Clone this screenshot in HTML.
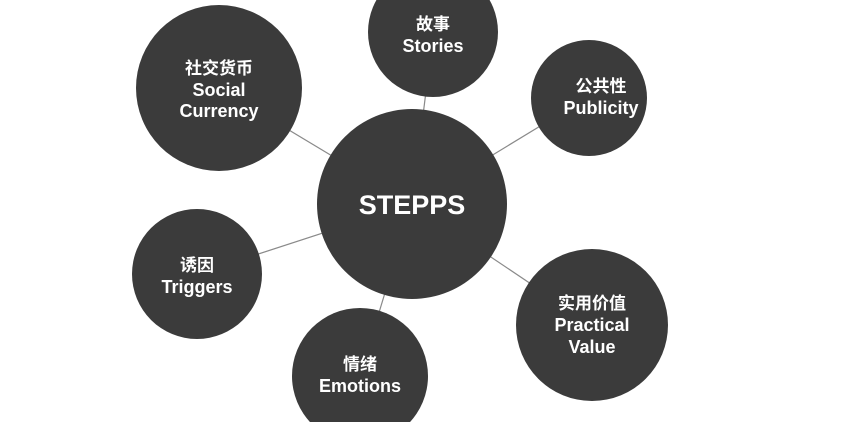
<!DOCTYPE html>
<html><head><meta charset="utf-8"><style>
html,body{margin:0;padding:0;background:#fff;width:857px;height:422px;overflow:hidden;}
body{position:relative;}
svg{position:absolute;left:0;top:0;display:block;}
text{font-family:"Liberation Sans","Noto Sans CJK SC",sans-serif;font-weight:bold;fill:#fff;text-anchor:middle;}
</style></head><body>
<svg width="857" height="422" viewBox="0 0 857 422">
<g stroke="#8a8a8a" stroke-width="1.2">
<line x1="219" y1="88" x2="412" y2="204"/>
<line x1="433" y1="35" x2="412" y2="204"/>
<line x1="588" y1="97" x2="412" y2="204"/>
<line x1="197" y1="274" x2="412" y2="204"/>
<line x1="360" y1="375" x2="412" y2="204"/>
<line x1="592" y1="325" x2="412" y2="204"/>
</g>
<g fill="#3b3b3b">
<circle cx="412" cy="204" r="95"/>
<circle cx="219" cy="88" r="83"/>
<circle cx="433" cy="32" r="65"/>
<circle cx="589" cy="98" r="58"/>
<circle cx="197" cy="274" r="65"/>
<circle cx="360" cy="376" r="68"/>
<circle cx="592" cy="325" r="76"/>
</g>
<text x="412" y="214" font-size="27">STEPPS</text>
<text x="219" y="74" font-size="17">社交货币</text>
<text x="219" y="96" font-size="18">Social</text>
<text x="219" y="117" font-size="18">Currency</text>
<text x="433" y="30" font-size="17">故事</text>
<text x="433" y="52" font-size="18">Stories</text>
<text x="601" y="92" font-size="17">公共性</text>
<text x="601" y="114" font-size="18">Publicity</text>
<text x="197" y="271" font-size="17">诱因</text>
<text x="197" y="293" font-size="18">Triggers</text>
<text x="360" y="370" font-size="17">情绪</text>
<text x="360" y="392" font-size="18">Emotions</text>
<text x="592" y="309" font-size="17">实用价值</text>
<text x="592" y="331" font-size="18">Practical</text>
<text x="592" y="353" font-size="18">Value</text>
</svg>
</body></html>
